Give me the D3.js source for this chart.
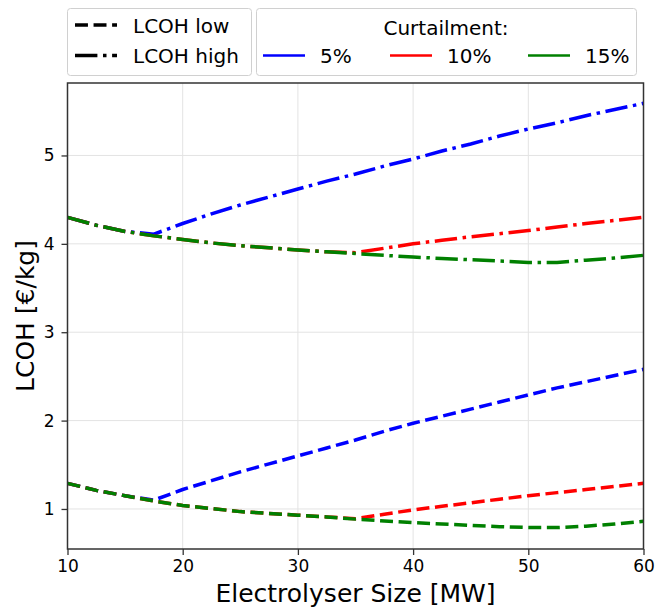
<!DOCTYPE html>
<html>
<head>
<meta charset="utf-8">
<script src="https://cdn.jsdelivr.net/npm/d3@7"></script>
<style>
	body { margin: 0; background: #fff; }
	text { font-family: "DejaVu Sans", sans-serif; fill: #000; }
</style>
</head>
<body>
<script>
// electrolyser size [MW]
var sizes = [10, 12.5, 15, 17.5, 20, 22.5, 25, 27.5, 30, 32.5, 35, 37.5, 40, 42.5, 45, 47.5, 50, 52.5, 55, 57.5, 60];

// LCOH high [€/kg] per curtailment
var high5 = [4.30, 4.21, 4.14, 4.11, 4.23, 4.34, 4.44, 4.53, 4.62, 4.71, 4.79, 4.88, 4.96, 5.05, 5.13, 5.22, 5.30, 5.37, 5.45, 5.52, 5.59];
var high10 = [4.30, 4.21, 4.14, 4.09, 4.05, 4.01, 3.98, 3.955, 3.93, 3.91, 3.90, 3.95, 4.00, 4.04, 4.08, 4.115, 4.15, 4.19, 4.23, 4.265, 4.30];
var high15 = [4.30, 4.21, 4.14, 4.09, 4.05, 4.01, 3.98, 3.955, 3.93, 3.91, 3.89, 3.87, 3.85, 3.835, 3.82, 3.805, 3.79, 3.79, 3.815, 3.84, 3.87];

// LCOH low [€/kg] per curtailment
var low5 = [1.29, 1.21, 1.15, 1.10, 1.22, 1.32, 1.42, 1.51, 1.60, 1.69, 1.78, 1.88, 1.97, 2.05, 2.13, 2.21, 2.29, 2.37, 2.44, 2.51, 2.58];
var low10 = [1.29, 1.21, 1.15, 1.09, 1.04, 1.005, 0.97, 0.95, 0.93, 0.91, 0.89, 0.94, 0.99, 1.03, 1.07, 1.11, 1.15, 1.185, 1.22, 1.255, 1.29];
var low15 = [1.29, 1.21, 1.15, 1.09, 1.04, 1.005, 0.97, 0.95, 0.93, 0.91, 0.885, 0.865, 0.845, 0.83, 0.815, 0.80, 0.79, 0.79, 0.805, 0.83, 0.86];

var curtailLabels = ["5%", "10%", "15%"];
var curtailColors = ["#0000ff", "#ff0000", "#008000"];
var xTicks = [10, 20, 30, 40, 50, 60];
var yTicks = [1, 2, 3, 4, 5];

var w = 656,
		h = 608;
var margin = {left: 67.5, right: 12.5, top: 83, bottom: 59};

var svg = d3.select('body').append('svg').attr("width", w).attr("height", h);

var x = d3.scaleLinear().domain([10, 60]).range([margin.left, w - margin.right]);
var y = d3.scaleLinear().domain([0.547, 5.82]).range([h - margin.bottom, margin.top]);

var lw = 3.5;
var dashLow = [3.7 * lw, 1.6 * lw].join(",");
var dashHigh = [6.4 * lw, 1.6 * lw, 1 * lw, 1.6 * lw].join(",");

// grid
var grid = svg.append('g').attr("stroke", "#e3e3e3").attr("stroke-width", 1);
grid.selectAll('line.gx').data(xTicks).enter().append('line')
	.attr("x1", function(d) { return x(d); })
	.attr("x2", function(d) { return x(d); })
	.attr("y1", margin.top)
	.attr("y2", h - margin.bottom);
grid.selectAll('line.gy').data(yTicks).enter().append('line')
	.attr("x1", margin.left)
	.attr("x2", w - margin.right)
	.attr("y1", function(d) { return y(d); })
	.attr("y2", function(d) { return y(d); });

// series
var line = d3.line()
	.x(function(d, i) { return x(sizes[i]); })
	.y(function(d) { return y(d); });

var series = [
	{values: low5, color: 0, dash: dashLow},
	{values: high5, color: 0, dash: dashHigh},
	{values: low10, color: 1, dash: dashLow},
	{values: high10, color: 1, dash: dashHigh},
	{values: low15, color: 2, dash: dashLow},
	{values: high15, color: 2, dash: dashHigh}
];

var plot = svg.append('g');
plot.selectAll('path').data(series).enter().append('path')
	.attr("d", function(d) { return line(d.values); })
	.attr("fill", "none")
	.attr("stroke", function(d) { return curtailColors[d.color]; })
	.attr("stroke-width", lw)
	.attr("stroke-dasharray", function(d) { return d.dash; });

// axes
var xAxis = svg.append('g')
	.attr("transform", "translate(0," + (h - margin.bottom) + ")")
	.call(d3.axisBottom(x).tickValues(xTicks).tickFormat(d3.format("d")).tickSize(6).tickSizeOuter(0).tickPadding(5));
var yAxis = svg.append('g')
	.attr("transform", "translate(" + margin.left + ",0)")
	.call(d3.axisLeft(y).tickValues(yTicks).tickFormat(d3.format("d")).tickSize(6).tickSizeOuter(0).tickPadding(7));

[xAxis, yAxis].forEach(function(a) {
	a.attr("font-size", null).attr("font-family", null);
	a.select('.domain').remove();
	a.selectAll('.tick line').attr("stroke", "#333").attr("stroke-width", 1.3);
	a.selectAll('.tick text').style("font-family", "DejaVu Sans").style("font-size", "17px").attr("fill", "#111");
});

// frame
svg.append('rect')
	.attr("x", margin.left)
	.attr("y", margin.top)
	.attr("width", w - margin.left - margin.right)
	.attr("height", h - margin.top - margin.bottom)
	.attr("fill", "none")
	.attr("stroke", "#333")
	.attr("stroke-width", 1.5);

// axis labels
svg.append('text')
	.attr("x", (margin.left + w - margin.right) / 2)
	.attr("y", 602)
	.attr("text-anchor", "middle")
	.style("font-size", "25px")
	.text("Electrolyser Size [MW]");

svg.append('text')
	.attr("transform", "translate(34," + 316 + ") rotate(-90)")
	.attr("text-anchor", "middle")
	.style("font-size", "25px")
	.text("LCOH [€/kg]");

// legend: line styles
var leg1 = svg.append('g');
leg1.append('rect')
	.attr("x", 67.5).attr("y", 8.5).attr("width", 184).attr("height", 67)
	.attr("rx", 3).attr("fill", "#fff").attr("fill-opacity", 0.8)
	.attr("stroke", "#d0d0d0").attr("stroke-width", 1);
var styleItems = [
	{label: "LCOH low", dash: dashLow, y: 25},
	{label: "LCOH high", dash: dashHigh, y: 55.5}
];
styleItems.forEach(function(d) {
	leg1.append('line')
		.attr("x1", 75).attr("x2", 117).attr("y1", d.y).attr("y2", d.y)
		.attr("stroke", "#000").attr("stroke-width", lw)
		.attr("stroke-dasharray", d.dash);
	leg1.append('text')
		.attr("x", 133).attr("y", d.y + 7.5)
		.style("font-size", "20px")
		.text(d.label);
});

// legend: curtailment colours
var leg2 = svg.append('g');
leg2.append('rect')
	.attr("x", 256.5).attr("y", 8.5).attr("width", 380).attr("height", 67)
	.attr("rx", 3).attr("fill", "#fff").attr("fill-opacity", 0.8)
	.attr("stroke", "#d0d0d0").attr("stroke-width", 1);
leg2.append('text')
	.attr("x", 446).attr("y", 34.5)
	.attr("text-anchor", "middle")
	.style("font-size", "20px")
	.text("Curtailment:");
var entryX = [263, 390, 528];
curtailLabels.forEach(function(lab, i) {
	leg2.append('line')
		.attr("x1", entryX[i]).attr("x2", entryX[i] + 42)
		.attr("y1", 55.5).attr("y2", 55.5)
		.attr("stroke", curtailColors[i]).attr("stroke-width", 2.5);
	leg2.append('text')
		.attr("x", entryX[i] + 57).attr("y", 63)
		.style("font-size", "20px")
		.text(lab);
});
</script>
</body>
</html>
